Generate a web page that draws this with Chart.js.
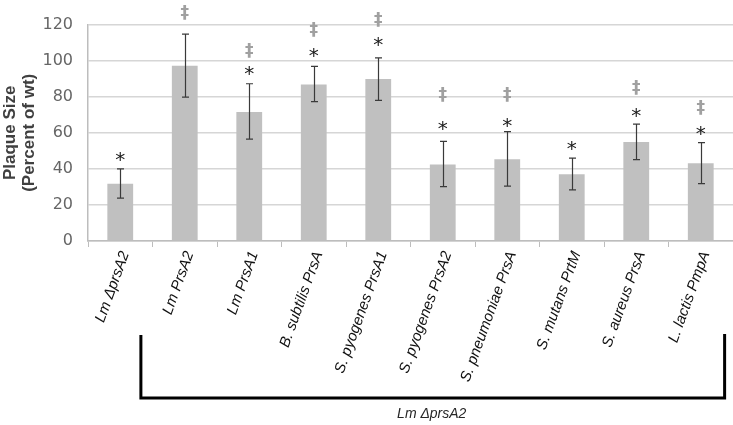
<!DOCTYPE html>
<html><head><meta charset="utf-8">
<script src="https://cdn.jsdelivr.net/npm/chart.js@4/dist/chart.umd.min.js"></script>
<style>html,body{margin:0;padding:0;background:#fff}#wrap{width:733px;height:425px;position:relative}</style>
</head><body><div id="wrap"><canvas id="c" width="733" height="425"></canvas></div>
<script>
const categories = ['Lm ΔprsA2','Lm PrsA2','Lm PrsA1','B. subtilis PrsA','S. pyogenes PrsA1','S. pyogenes PrsA2','S. pneumoniae PrsA','S. mutans PrtM','S. aureus PrsA','L. lactis PmpA'];
const plaqueSize = [31.7, 97.2, 71.6, 86.8, 89.8, 42.4, 45.3, 37.0, 54.9, 43.1];
const errorHigh = [40.0, 114.7, 87.2, 96.8, 101.6, 55.3, 60.7, 46.0, 64.8, 54.6];
const errorLow = [23.8, 79.8, 56.5, 77.3, 78.0, 30.1, 30.4, 28.3, 45.1, 31.8];
const asteriskAt = [46, null, 93.6, 104, 110, 63.2, 65, 52, 70.3, 60.5];
const daggerAt = [null, 126, 105, 116.5, 122, 80.7, 80.7, null, 84.7, 73.6];
const yTicks = [0, 20, 40, 60, 80, 100, 120];
const yTitle = ['Plaque Size', '(Percent of wt)'];
const bracketLabel = 'Lm ΔprsA2';
const bracketFrom = 1, bracketTo = 9;

const annotate = {
  id: 'annotate',
  afterDatasetsDraw(chart) {
    const ctx = chart.ctx, x = chart.scales.x, y = chart.scales.y;
    ctx.save();
    // error bars
    ctx.strokeStyle = '#3a3a3a';
    ctx.lineWidth = 1.2;
    for (let i = 0; i < categories.length; i++) {
      const cx = Math.round(x.getPixelForValue(i)) + 0.5;
      const yt = y.getPixelForValue(errorHigh[i]);
      const yb = y.getPixelForValue(errorLow[i]);
      ctx.beginPath();
      ctx.moveTo(cx, yt); ctx.lineTo(cx, yb);
      ctx.moveTo(cx - 3.5, yt); ctx.lineTo(cx + 3.5, yt);
      ctx.moveTo(cx - 3.5, yb); ctx.lineTo(cx + 3.5, yb);
      ctx.stroke();
    }
    // significance symbols
    ctx.textAlign = 'center';
    ctx.textBaseline = 'middle';
    for (let i = 0; i < categories.length; i++) {
      const cx = x.getPixelForValue(i);
      if (asteriskAt[i] !== null) {
        ctx.fillStyle = '#1a1a1a';
        ctx.font = '20px "DejaVu Sans"';
        ctx.fillText('*', cx, y.getPixelForValue(asteriskAt[i]) + 3);
      }
      if (daggerAt[i] !== null) {
        ctx.fillStyle = '#a0a0a0';
        ctx.font = 'bold 17px "DejaVu Sans"';
        ctx.fillText('‡', cx, y.getPixelForValue(daggerAt[i]));
      }
    }
    // bracket under labels
    const w = x.getPixelForValue(1) - x.getPixelForValue(0);
    const lx = x.getPixelForValue(bracketFrom) - 0.68 * w;
    const rx = x.getPixelForValue(bracketTo) + 0.37 * w;
    const top = chart.chartArea.bottom + 94;
    const bot = chart.chartArea.bottom + 157;
    ctx.strokeStyle = '#000';
    ctx.lineWidth = 3;
    ctx.beginPath();
    ctx.moveTo(lx, top); ctx.lineTo(lx, bot); ctx.lineTo(rx, bot); ctx.lineTo(rx, top - 1);
    ctx.stroke();
    ctx.fillStyle = '#262626';
    ctx.font = 'italic 14px "Liberation Sans"';
    ctx.textAlign = 'center';
    ctx.fillText(bracketLabel, (lx + rx) / 2 - 1, bot + 16);
    ctx.restore();
  }
};

new Chart(document.getElementById('c'), {
  type: 'bar',
  data: {
    labels: categories,
    datasets: [{
      data: plaqueSize,
      backgroundColor: '#c0c0c0',
      borderWidth: 0,
      barPercentage: 0.4,
      categoryPercentage: 1.0
    }]
  },
  options: {
    responsive: false,
    animation: false,
    devicePixelRatio: 1,
    layout: { padding: { top: 18, right: 0, left: 0, bottom: 0 } },
    plugins: { legend: { display: false }, tooltip: { enabled: false } },
    scales: {
      x: {
        afterFit(s) { s.height = 184; },
        grid: { offset: true, drawOnChartArea: false, drawTicks: true, tickLength: 6, color: '#bdbdbd', lineWidth: 1 },
        border: { color: '#bdbdbd', width: 1.5 },
        ticks: {
          autoSkip: false, minRotation: 70, maxRotation: 70, padding: 2, labelOffset: 5,
          color: '#111', font: { family: '"Liberation Sans", Arial', size: 15, style: 'italic' }
        }
      },
      y: {
        min: 0, max: 120,
        afterFit(s) { s.width = 88; },
        afterBuildTicks(s) { s.ticks = yTicks.map(v => ({ value: v })); },
        grid: { color: '#d6d6d6', lineWidth: 1.5, drawTicks: false },
        border: { color: '#bdbdbd', width: 1.5 },
        ticks: {
          padding: 15, color: '#666666',
          font: { family: '"DejaVu Sans"', size: 16 }
        },
        title: {
          display: true, text: yTitle, color: '#404040',
          font: { family: '"Liberation Sans", Arial', size: 17, weight: 'bold', lineHeight: 1.12 },
          padding: { top: 1, bottom: 0 }
        }
      }
    }
  },
  plugins: [annotate]
});
</script></body></html>
